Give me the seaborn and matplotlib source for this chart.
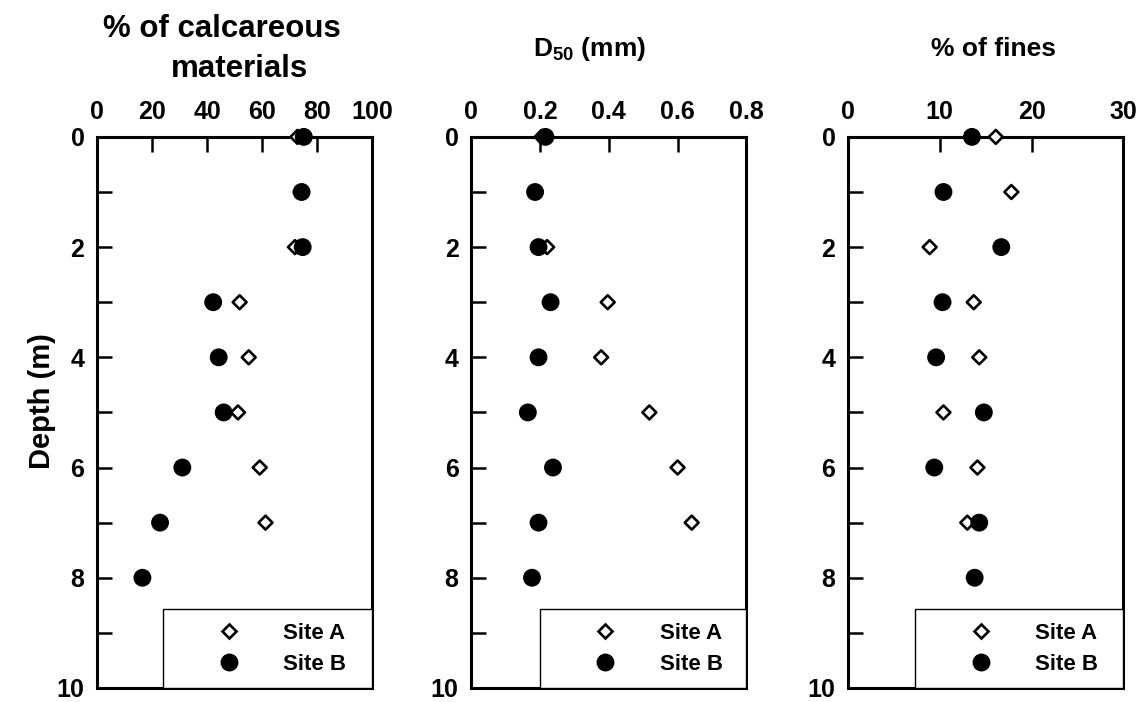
import pandas as pd
import matplotlib
matplotlib.use("Agg")
import matplotlib.pyplot as plt
import seaborn as sns

sns.set_style("white")
plt.rcParams["font.family"] = ["Liberation Sans", "DejaVu Sans"]
plt.rcParams["font.weight"] = "bold"
plt.rcParams["text.color"] = "black"
plt.rcParams["axes.labelcolor"] = "black"
plt.rcParams["xtick.color"] = "black"
plt.rcParams["ytick.color"] = "black"
plt.rcParams["mathtext.fontset"] = "custom"
plt.rcParams["mathtext.bf"] = "Liberation Sans:bold"
plt.rcParams["mathtext.rm"] = "Liberation Sans:bold"

# depths (m)
depth_a = [0, 1, 2, 3, 4, 5, 6, 7]
depth_b = [0, 1, 2, 3, 4, 5, 6, 7, 8]

# % of calcareous materials
calc_a = [72.8, 74.0, 71.9, 51.8, 55.1, 51.2, 59.1, 61.2]
calc_b = [75.1, 74.3, 74.7, 42.2, 44.2, 46.0, 31.0, 22.9, 16.5]

# D50 (mm)
d50_a = [0.205, 0.186, 0.221, 0.397, 0.378, 0.518, 0.600, 0.641]
d50_b = [0.216, 0.186, 0.196, 0.231, 0.196, 0.165, 0.238, 0.196, 0.177]

# % of fines
fines_a = [16.1, 17.8, 8.9, 13.7, 14.3, 10.4, 14.1, 13.0]
fines_b = [13.5, 10.4, 16.7, 10.3, 9.6, 14.8, 9.4, 14.3, 13.8]

sites = ["Site A", "Site B"]


def make_df(vals_a, vals_b):
    return pd.DataFrame({
        "Depth": depth_a + depth_b,
        "value": vals_a + vals_b,
        "Site": [sites[0]] * len(vals_a) + [sites[1]] * len(vals_b),
    })


panels = [
    (make_df(calc_a, calc_b), 100, [0, 20, 40, 60, 80, 100], ["0", "20", "40", "60", "80", "100"], 0.24),
    (make_df(d50_a, d50_b), 0.8, [0, 0.2, 0.4, 0.6, 0.8], ["0", "0.2", "0.4", "0.6", "0.8"], 0.25),
    (make_df(fines_a, fines_b), 30, [0, 10, 20, 30], ["0", "10", "20", "30"], 0.245),
]

fig = plt.figure(figsize=(11.45, 7.02), dpi=100)
lefts = [0.0847, 0.4114, 0.7406]
axes = []

for i, (df, xmax, xt, xtl, leg_x) in enumerate(panels):
    ax = fig.add_axes([lefts[i], 0.02, 0.2405, 0.785])
    axes.append(ax)
    sns.scatterplot(data=df, x="value", y="Depth", hue="Site", style="Site", size="Site",
                    markers={"Site A": "D", "Site B": "o"},
                    palette={"Site A": "white", "Site B": "black"},
                    sizes={"Site A": 50, "Site B": 120},
                    edgecolor="black", linewidth=1.9, clip_on=False, zorder=3, ax=ax)
    ax.set_xlim(0, xmax)
    ax.set_ylim(10, 0)
    ax.set_xticks(xt)
    ax.set_xticklabels(xtl)
    ax.set_yticks([0, 2, 4, 6, 8, 10])
    ax.set_yticklabels(["0", "2", "4", "6", "8", "10"])
    ax.set_yticks([1, 3, 5, 7, 9], minor=True)
    ax.xaxis.tick_top()
    ax.tick_params(axis="both", which="both", direction="in", length=11, width=1.8,
                   labelsize=18, pad=9, color="black")
    ax.tick_params(axis="x", which="both", top=True, bottom=False, labeltop=True, labelbottom=False)
    ax.tick_params(axis="y", which="both", left=True, right=False)
    for sp in ax.spines.values():
        sp.set_linewidth(2.2)
        sp.set_color("black")
    ax.set_xlabel("")
    ax.set_ylabel("")

    old = ax.get_legend()
    handles = old.legend_handles
    labels = [t.get_text() for t in old.get_texts()]
    old.remove()
    leg = ax.legend(handles, labels, loc="lower left", bbox_to_anchor=(leg_x, 0, 1 - leg_x, 0.145),
                    mode="expand", borderaxespad=0, fancybox=False, edgecolor="black",
                    framealpha=1, fontsize=16, handlelength=4.7, handletextpad=0.1,
                    borderpad=0.6, labelspacing=0.45)
    leg.get_frame().set_linewidth(1.0)

axes[0].set_ylabel("Depth (m)", fontsize=21, fontweight="bold")
axes[0].yaxis.set_label_coords(-0.15, 0.52)

axes[0].text(0.453, 1.182, "% of calcareous", transform=axes[0].transAxes,
             ha="center", va="baseline", fontsize=22.5, fontweight="bold")
axes[0].text(0.518, 1.108, "materials", transform=axes[0].transAxes,
             ha="center", va="baseline", fontsize=22.5, fontweight="bold")
axes[1].text(0.43, 1.147, r"$\mathbf{D_{50}}$ (mm)", transform=axes[1].transAxes,
             ha="center", va="baseline", fontsize=19, fontweight="bold")
axes[2].text(0.53, 1.147, "% of fines", transform=axes[2].transAxes,
             ha="center", va="baseline", fontsize=19, fontweight="bold")

fig.savefig("out.png", dpi=100)
